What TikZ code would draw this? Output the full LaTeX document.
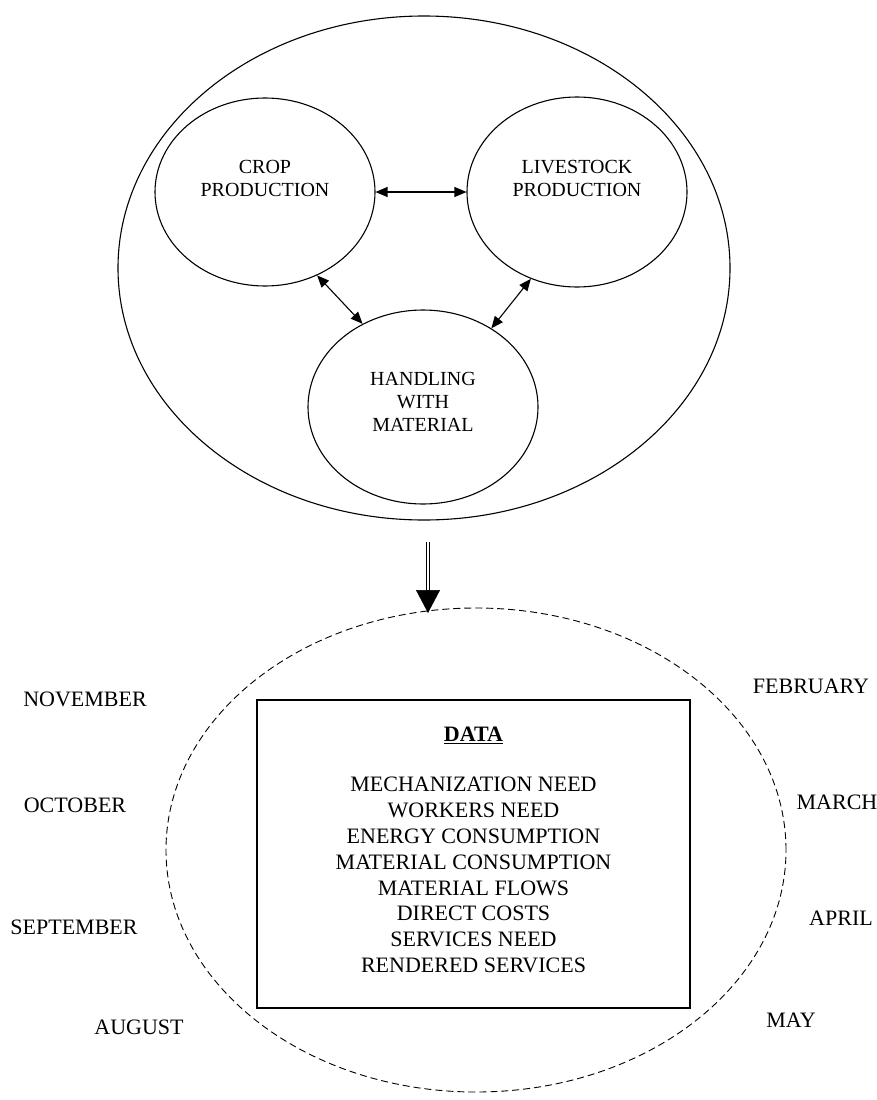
\documentclass[tikz,border=0pt]{standalone}
\usepackage{fontspec}
\setmainfont{Liberation Serif}
\usetikzlibrary{arrows.meta,shapes.geometric,calc}
\begin{document}
\begin{tikzpicture}[x=1pt,y=-1pt,
  ell/.style={draw, ellipse, line width=1.1pt, inner sep=0pt},
  lbl/.style={align=center, font=\fontsize{20}{23}\selectfont, inner sep=0pt},
  month/.style={font=\fontsize{22}{26}\selectfont, inner sep=0pt},
  biarrow/.style={line width=1.1pt, {Triangle[length=12pt,width=10pt]}-{Triangle[length=12pt,width=10pt]}},
]
\useasboundingbox (0,0) rectangle (877,1100);
% top group
\node[ell, minimum width=612pt, minimum height=504pt] (outer) at (424,268) {};
\node[ell, minimum width=220pt, minimum height=188pt] (crop) at (265,192) {};
\node[ell, minimum width=220pt, minimum height=190pt] (live) at (577,192) {};
\node[ell, minimum width=230pt, minimum height=194pt] (hand) at (423,407) {};
\node[lbl] (croptxt) at ($(crop)+(0,-14)$) {CROP\\PRODUCTION};
\node[lbl] (livetxt) at ($(live)+(0,-14)$) {LIVESTOCK\\PRODUCTION};
\node[lbl] (handtxt) at ($(hand)+(0,-5)$) {HANDLING\\WITH\\MATERIAL};
\draw[biarrow] (crop.east) -- (live.west);
\draw[biarrow] (crop.-58) -- (hand.126);
\draw[biarrow] (live.242) -- (hand.49);
% double arrow
\coordinate (ds) at (428,542);
\coordinate (dt) at (428,613);
\draw[line width=1pt, double distance=2.6pt] (ds) -- ($(dt)+(0,-21)$);
\draw[line width=0.5pt, -{Triangle[length=23pt,width=24pt]}] ($(dt)+(0,-23)$) -- (dt);
% bottom group
\node[ell, dashed, dash pattern=on 7pt off 4pt, line width=0.9pt, minimum width=620pt, minimum height=484pt] (period) at (476,850) {};
\node[draw, line width=1.3pt, minimum width=433pt, minimum height=308pt, inner sep=0pt] (box) at (473.5,854) {};
\node[align=center, font=\fontsize{22}{25.8}\selectfont, inner sep=0pt] (data) at (473.5,850) {\underline{\textbf{DATA}}\\[24.2pt]
MECHANIZATION NEED\\ WORKERS NEED\\ ENERGY CONSUMPTION\\ MATERIAL CONSUMPTION\\ MATERIAL FLOWS\\ DIRECT COSTS\\ SERVICES NEED\\ RENDERED SERVICES};
% months
\node[month] (nov) at (85,699) {NOVEMBER};
\node[month] (oct) at (75,805) {OCTOBER};
\node[month] (sep) at (74,927) {SEPTEMBER};
\node[month] (aug) at (139,1027) {AUGUST};
\node[month] (feb) at (811,686) {FEBRUARY};
\node[month] (mar) at (837,802) {MARCH};
\node[month] (apr) at (841,918) {APRIL};
\node[month] (may) at (791,1020) {MAY};
\end{tikzpicture}
\end{document}
